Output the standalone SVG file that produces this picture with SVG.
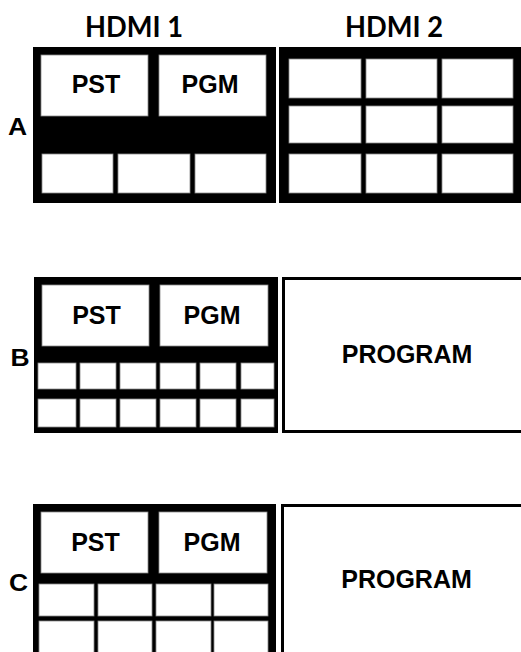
<svg xmlns="http://www.w3.org/2000/svg" width="521" height="652" viewBox="0 0 521 652">
<style>
.bg{fill:#000}
.cell{fill:#fff;stroke:#8a8a8a;stroke-width:0.8}
.prog{fill:#fff;stroke:#000;stroke-width:3}
.hdr{font-family:Lato,"Open Sans",sans-serif;font-weight:700;font-size:29px;fill:#000;text-anchor:middle}
.lbl{font-family:"Liberation Sans",Arial,sans-serif;font-weight:700;font-size:25px;fill:#000;text-anchor:middle}
.row{font-family:"Liberation Sans",Arial,sans-serif;font-weight:700;font-size:23px;fill:#000;text-anchor:middle}
</style>
<rect width="521" height="652" fill="#fff"/>
<g id="headers">
<text class="hdr" x="134" y="37" textLength="98" lengthAdjust="spacingAndGlyphs">HDMI 1</text>
<text class="hdr" x="394" y="37" textLength="98" lengthAdjust="spacingAndGlyphs">HDMI 2</text>
</g>
<g id="row-labels">
<text class="row" x="17.5" y="135" transform="translate(17.5 0) scale(1.15 1) translate(-17.5 0)">A</text>
<text class="row" x="20" y="366" transform="translate(20 0) scale(1.15 1) translate(-20 0)">B</text>
<text class="row" x="18.5" y="591" transform="translate(18.5 0) scale(1.15 1) translate(-18.5 0)">C</text>
</g>
<g id="A-hdmi1">
<rect class="bg" x="33" y="47" width="243" height="156"/>
<rect class="cell" x="41" y="55" width="107" height="61"/>
<rect class="cell" x="159" y="55" width="107" height="61"/>
<rect class="cell" x="42" y="154" width="71" height="39"/>
<rect class="cell" x="118" y="154" width="72" height="39"/>
<rect class="cell" x="195" y="154" width="71" height="39"/>
<text class="lbl" x="96" y="93">PST</text>
<text class="lbl" x="210" y="93">PGM</text>
</g>
<g id="A-hdmi2">
<rect class="bg" x="279" y="47" width="245" height="156"/>
<rect class="cell" x="289" y="59" width="72" height="39"/>
<rect class="cell" x="366" y="59" width="71" height="39"/>
<rect class="cell" x="442" y="59" width="71" height="39"/>
<rect class="cell" x="289" y="106" width="72" height="37"/>
<rect class="cell" x="366" y="106" width="71" height="37"/>
<rect class="cell" x="442" y="106" width="71" height="37"/>
<rect class="cell" x="289" y="154" width="72" height="39"/>
<rect class="cell" x="366" y="154" width="71" height="39"/>
<rect class="cell" x="442" y="154" width="71" height="39"/>
</g>
<g id="B-hdmi1">
<rect class="bg" x="34" y="277" width="244" height="156"/>
<rect class="cell" x="42" y="285" width="107" height="61"/>
<rect class="cell" x="160" y="285" width="108" height="61"/>
<rect class="cell" x="38" y="363" width="38" height="26"/>
<rect class="cell" x="80" y="363" width="36" height="26"/>
<rect class="cell" x="120" y="363" width="36" height="26"/>
<rect class="cell" x="160" y="363" width="36" height="26"/>
<rect class="cell" x="200" y="363" width="36" height="26"/>
<rect class="cell" x="241" y="363" width="33" height="26"/>
<rect class="cell" x="38" y="399" width="38" height="28"/>
<rect class="cell" x="80" y="399" width="36" height="28"/>
<rect class="cell" x="120" y="399" width="36" height="28"/>
<rect class="cell" x="160" y="399" width="36" height="28"/>
<rect class="cell" x="200" y="399" width="36" height="28"/>
<rect class="cell" x="241" y="399" width="33" height="28"/>
<text class="lbl" x="96.5" y="324">PST</text>
<text class="lbl" x="212" y="324">PGM</text>
</g>
<g id="B-hdmi2">
<rect class="prog" x="283.5" y="278.5" width="240" height="153"/>
<text class="lbl" x="407" y="363">PROGRAM</text>
</g>
<g id="C-hdmi1">
<rect class="bg" x="33" y="504" width="243" height="160"/>
<rect class="cell" x="41" y="512" width="107" height="61"/>
<rect class="cell" x="159" y="512" width="108" height="61"/>
<rect class="cell" x="39" y="584" width="55" height="32"/>
<rect class="cell" x="98" y="584" width="54" height="32"/>
<rect class="cell" x="156" y="584" width="55" height="32"/>
<rect class="cell" x="214" y="584" width="54" height="32"/>
<rect class="cell" x="39" y="621" width="55" height="40"/>
<rect class="cell" x="98" y="621" width="54" height="40"/>
<rect class="cell" x="156" y="621" width="55" height="40"/>
<rect class="cell" x="214" y="621" width="54" height="40"/>
<text class="lbl" x="95.5" y="551">PST</text>
<text class="lbl" x="212" y="551">PGM</text>
</g>
<g id="C-hdmi2">
<rect class="prog" x="282.5" y="505.5" width="240" height="160"/>
<text class="lbl" x="406.5" y="588">PROGRAM</text>
</g>
</svg>
